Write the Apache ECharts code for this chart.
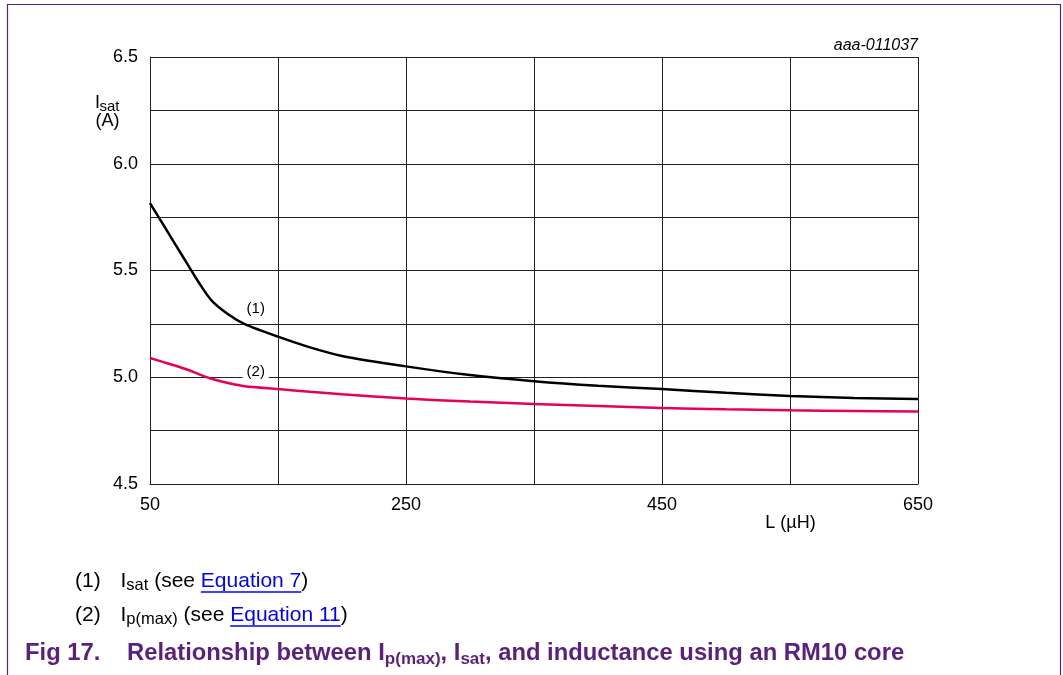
<!DOCTYPE html>
<html>
<head>
<meta charset="utf-8">
<script src="https://cdn.jsdelivr.net/npm/echarts@6/dist/echarts.min.js"></script>
<style>html,body{margin:0;padding:0;background:#fff;}#c{width:1063px;height:675px;}</style>
</head>
<body>
<div id="c"></div>
<script>
// ---- data ----
const inductance = [50, 60, 70, 80, 88, 98, 111, 124, 150, 175, 200, 250, 300, 350, 400, 450, 500, 550, 600, 650];
const isat =       [5.816, 5.718, 5.62, 5.523, 5.445, 5.36, 5.295, 5.249, 5.19, 5.14, 5.10, 5.051, 5.01, 4.981, 4.96, 4.945, 4.927, 4.912, 4.903, 4.898];
const ipmax =      [5.09, 5.072, 5.054, 5.034, 5.015, 4.993, 4.973, 4.958, 4.945, 4.932, 4.92, 4.90, 4.886, 4.875, 4.865, 4.856, 4.85, 4.845, 4.842, 4.839];
const xTicks = [50, 150, 250, 350, 450, 550, 650];
const xLabels = [50, 250, 450, 650];
const yLabels = [4.5, 5.0, 5.5, 6.0, 6.5];
const curveLabels = [{ text: '(1)', x: 132.6, y: 5.321 }, { text: '(2)', x: 132.6, y: 5.026 }];

const FF = '"Liberation Sans", Arial, Helvetica, sans-serif';
const PURPLE = '#5b1f7e';
const mctx = document.createElement('canvas').getContext('2d');
function tw(t, size, bold, italic) {
  mctx.font = (italic ? 'italic ' : '') + (bold ? 'bold ' : '') + size + 'px ' + FF;
  return mctx.measureText(t).width;
}
const graphics = [];
function addText(t, x, baseline, size, opts) {
  opts = opts || {};
  const font = (opts.italic ? 'italic ' : '') + (opts.bold ? 'bold ' : '') + size + 'px ' + FF;
  graphics.push({
    type: 'text', x: x, y: baseline - 0.347 * size, z: 10, silent: true,
    style: { text: t, font: font, fill: opts.color || '#000',
      align: opts.align || 'left', verticalAlign: 'middle',
      textAlign: opts.align || 'left', textVerticalAlign: 'middle' }
  });
}
function flow(segs, x0, baseline) {
  let x = x0;
  segs.forEach(s => {
    const w = tw(s.t, s.s, s.b);
    addText(s.t, x, baseline + (s.dy || 0), s.s, { bold: s.b, color: s.c });
    if (s.u) {
      graphics.push({ type: 'line', z: 10, silent: true,
        shape: { x1: x, y1: baseline + 4, x2: x + w, y2: baseline + 4 },
        style: { stroke: s.c, lineWidth: 1.3 } });
    }
    x += w;
  });
  return x;
}

// frame
graphics.push({ type: 'polyline', z: 10, silent: true,
  shape: { points: [[7.5, 676], [7.5, 4.5], [1060.5, 4.5], [1060.5, 676]] },
  style: { stroke: PURPLE, lineWidth: 1.2, fill: null } });

// axis name (y)
addText('I', 95, 109.5, 18);
addText('sat', 99.5, 112.5, 15);
addText('(A)', 119.5, 127.5, 18, { align: 'right' });
// axis name (x)
addText('L (\u00b5H)', 790.5, 529.5, 18, { align: 'center' });
// figure id
addText('aaa-011037', 918, 51, 16, { align: 'right', italic: true });

// footnotes
const BLUE = '#0000ff';
const FS = 21, FSS = 16.5;
addText('(1)', 75, 588, FS);
flow([{ t: 'I', s: FS }, { t: 'sat', s: FSS, dy: 3 }, { t: ' (see ', s: FS },
      { t: 'Equation 7', s: FS, c: BLUE, u: true }, { t: ')', s: FS }], 120.5, 588);
addText('(2)', 75, 622, FS);
flow([{ t: 'I', s: FS }, { t: 'p(max)', s: FSS, dy: 3 }, { t: ' (see ', s: FS },
      { t: 'Equation 11', s: FS, c: BLUE, u: true }, { t: ')', s: FS }], 120.5, 622);

// title
const TS = 23.8, SS = 17;
addText('Fig 17.', 25, 661.5, TS, { bold: true, color: PURPLE });
flow([{ t: 'Relationship between I', s: TS, b: true, c: PURPLE },
      { t: 'p(max)', s: SS, b: true, c: PURPLE, dy: 4 },
      { t: ', I', s: TS, b: true, c: PURPLE },
      { t: 'sat', s: SS, b: true, c: PURPLE, dy: 4 },
      { t: ', and inductance using an RM10 core', s: TS, b: true, c: PURPLE }], 127, 661.5);

const chart = echarts.init(document.getElementById('c'), null, { renderer: 'canvas' });
const lineColor = '#222';
chart.setOption({
  animation: false,
  backgroundColor: '#fff',
  grid: { left: 150, right: 145, top: 57, bottom: 191, containLabel: false },
  xAxis: {
    type: 'value', min: 50, max: 650,
    axisLine: { show: true, lineStyle: { color: lineColor, width: 1 } },
    axisTick: { show: false, customValues: xTicks },
    axisLabel: { customValues: xLabels, color: '#000', fontSize: 18, fontFamily: FF, margin: 12 },
    splitLine: { show: true, lineStyle: { color: lineColor, width: 1 } }
  },
  yAxis: {
    type: 'value', min: 4.5, max: 6.5, interval: 0.25,
    axisLine: { show: true, lineStyle: { color: lineColor, width: 1 } },
    axisTick: { show: false },
    axisLabel: {
      color: '#000', fontSize: 18, fontFamily: FF, margin: 12, padding: [4, 0, 0, 0],
      formatter: v => yLabels.some(l => Math.abs(l - v) < 1e-6) ? v.toFixed(1) : ''
    },
    splitLine: { show: true, lineStyle: { color: lineColor, width: 1 } }
  },
  series: [
    {
      name: 'Isat', type: 'line', smooth: 0.25, showSymbol: false, symbol: 'none',
      data: inductance.map((x, i) => [x, isat[i]]),
      lineStyle: { color: '#000', width: 2.5 }, z: 3,
      markPoint: {
        symbol: 'rect', symbolSize: [24, 15], itemStyle: { color: '#fff' }, silent: true,
        label: { show: true, position: 'inside', color: '#000', fontSize: 15, fontFamily: FF, formatter: p => p.name },
        data: [{ name: curveLabels[0].text, coord: [curveLabels[0].x, curveLabels[0].y] }]
      }
    },
    {
      name: 'Ip(max)', type: 'line', smooth: 0.25, showSymbol: false, symbol: 'none',
      data: inductance.map((x, i) => [x, ipmax[i]]),
      lineStyle: { color: '#e6005a', width: 2.5 }, z: 3,
      markPoint: {
        symbol: 'rect', symbolSize: [26, 15], itemStyle: { color: '#fff' }, silent: true,
        label: { show: true, position: 'inside', color: '#000', fontSize: 15, fontFamily: FF, formatter: p => p.name },
        data: [{ name: curveLabels[1].text, coord: [curveLabels[1].x, curveLabels[1].y] }]
      }
    }
  ],
  graphic: { elements: graphics }
});
</script>
</body>
</html>
